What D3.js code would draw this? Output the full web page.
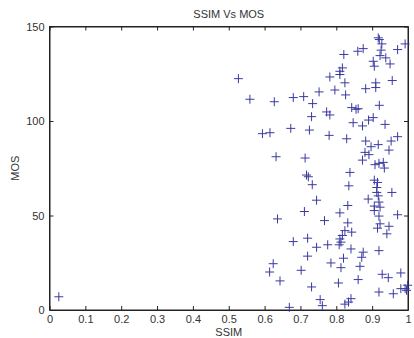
<!DOCTYPE html>
<html><head><meta charset="utf-8">
<script src="https://cdn.jsdelivr.net/npm/d3@7"></script>
<style>html,body{margin:0;padding:0;background:#fff;}svg{display:block;}</style>
</head><body>
<script>
const chartTitle = "SSIM Vs MOS";
const xLabel = "SSIM";
const yLabel = "MOS";
const xTicks = [0,0.1,0.2,0.3,0.4,0.5,0.6,0.7,0.8,0.9,1];
const yTicks = [0,50,100,150];
const ssim = [0.917,0.92,0.927,0.925,0.992,0.971,0.875,0.86,0.821,0.922,0.938,0.903,0.906,0.95,0.817,0.81,0.81,0.782,0.527,0.824,0.91,0.956,
  0.91,0.882,0.796,0.752,0.826,0.559,0.627,0.68,0.709,0.734,0.92,0.843,0.855,0.861,0.773,0.782,0.731,0.847,0.873,0.89,0.903,0.936,0.594,0.615,0.673,0.725,0.78,0.829,0.882,0.971,0.953,
  0.897,0.917,0.947,0.88,0.891,0.873,0.632,0.713,0.908,0.919,0.931,0.934,0.838,0.717,0.722,0.733,0.835,0.906,0.915,0.913,0.913,0.917,0.955,0.889,0.745,
  0.919,0.832,0.906,0.922,0.906,0.711,0.81,0.919,0.971,0.636,0.767,0.832,0.922,0.947,0.915,0.824,0.843,0.941,0.817,0.81,0.68,0.72,0.813,0.745,0.776,0.808,0.841,0.875,0.919,0.72,0.82,0.871,
  0.624,0.614,0.702,0.785,0.813,0.866,0.643,0.731,0.806,0.861,0.928,0.945,0.98,0.919,0.959,0.999,0.992,0.996,0.98,0.755,0.761,0.669,0.824,0.834,0.841,0.026];
const mos = [144.0,143.1,140.8,137.5,140.8,137.8,138.3,136.9,135.2,134.6,133.4,131.6,129.0,130.2,128.1,126.3,124.6,123.3,122.4,120.2,120.2,121.4,
  117.7,117.1,116.4,115.4,113.8,111.5,110.2,112.4,112.9,109.2,108.3,107.1,106.2,106.5,104.8,103.2,102.3,99.1,97.4,100.5,101.8,98.2,93.3,93.8,96.1,95.2,92.4,90.6,89.4,91.7,89.4,
  86.4,87.5,84.6,83.4,82.2,79.3,81.1,80.4,76.9,77.6,78.1,75.1,72.8,71.4,70.5,66.3,65.7,68.7,67.5,64.8,62.2,60.4,62.2,58.7,58.1,
  57.1,55.3,55.0,54.4,52.6,52.1,51.4,49.7,50.4,48.2,47.3,46.1,45.6,44.3,43.3,42.0,41.2,40.3,39.4,37.6,36.2,38.0,35.9,33.2,34.5,34.5,32.3,30.6,31.4,28.5,27.4,27.9,
  24.5,20.1,21.0,24.9,22.4,23.1,15.4,12.2,14.3,16.1,18.9,17.1,19.6,9.5,8.6,13.1,11.3,10.4,11.3,5.5,2.3,1.4,3.1,4.2,6.0,7.0];

const W = 414, H = 338;
const m = {left: 49.5, right: 6, top: 26.5, bottom: 28};
const svg = d3.select("body").append("svg").attr("width", W).attr("height", H);
const x = d3.scaleLinear().domain([0,1]).range([m.left, W - m.right]);
const y = d3.scaleLinear().domain([0,150]).range([H - m.bottom, m.top]);
const font = "'Liberation Sans', Arial, sans-serif";
const tc = "#333";

svg.append("rect").attr("x", x(0)).attr("y", y(150)).attr("width", x(1)-x(0)).attr("height", y(0)-y(150))
  .attr("fill", "none").attr("stroke", "#222").attr("stroke-width", 1);

const xAxB = svg.append("g").attr("transform", `translate(0,${y(0)})`)
  .call(d3.axisBottom(x).tickValues(xTicks).tickSizeInner(-4).tickSizeOuter(0).tickPadding(5).tickFormat(d3.format("~g")));
const xAxT = svg.append("g").attr("transform", `translate(0,${y(150)})`)
  .call(d3.axisTop(x).tickValues(xTicks).tickSizeInner(-4).tickSizeOuter(0).tickFormat(""));
const yAxL = svg.append("g").attr("transform", `translate(${x(0)},0)`)
  .call(d3.axisLeft(y).tickValues(yTicks).tickSizeInner(-4).tickSizeOuter(0).tickPadding(5));
const yAxR = svg.append("g").attr("transform", `translate(${x(1)},0)`)
  .call(d3.axisRight(y).tickValues(yTicks).tickSizeInner(-4).tickSizeOuter(0).tickFormat(""));
[xAxB, xAxT, yAxL, yAxR].forEach(g => {
  g.select(".domain").attr("stroke", "#222");
  g.selectAll(".tick line").attr("stroke", "#222");
  g.selectAll("text").attr("font-family", font).attr("font-size", 11).attr("fill", tc);
});

const s = 4.5;
const pts = svg.append("g").attr("stroke", "#3a3aa0").attr("stroke-width", 1).attr("fill", "none");
ssim.forEach((v, i) => {
  const px = x(v), py = y(mos[i]);
  pts.append("path").attr("d", `M${px-s},${py}H${px+s}M${px},${py-s}V${py+s}`);
});

svg.append("text").attr("x", (x(0)+x(1))/2).attr("y", 18).attr("text-anchor", "middle")
  .attr("font-family", font).attr("font-size", 11).attr("fill", tc).text(chartTitle);
svg.append("text").attr("x", (x(0)+x(1))/2).attr("y", 336).attr("text-anchor", "middle")
  .attr("font-family", font).attr("font-size", 11).attr("fill", tc).text(xLabel);
svg.append("text").attr("transform", `translate(19,${(y(0)+y(150))/2}) rotate(-90)`).attr("text-anchor", "middle")
  .attr("font-family", font).attr("font-size", 11).attr("fill", tc).text(yLabel);
</script>
</body></html>
